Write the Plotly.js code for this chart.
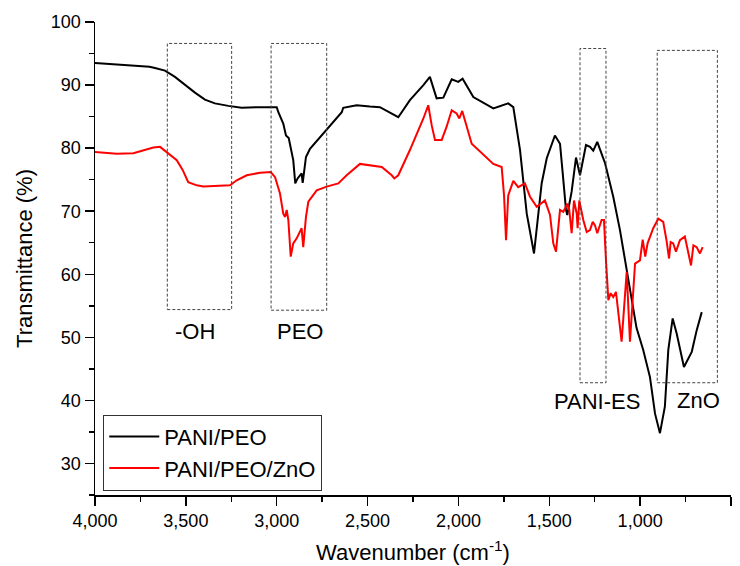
<!DOCTYPE html>
<html>
<head>
<meta charset="utf-8">
<script src="https://cdn.plot.ly/plotly-3.0.1.min.js"></script>
<style>
html,body{margin:0;padding:0;background:#fff;}
#chart{width:740px;height:566px;}
</style>
</head>
<body>
<div id="chart"></div>
<script>
// PANI/PEO
var wnPaniPeo = [4000,3826,3700,3670,3615,3560,3505,3450,3395,3340,3266,3193,3092,3000,2991,2964,2949,2934,2909,2898,2885,2863,2857,2839,2817,2642,2634,2560,2487,2432,2331,2267,2193,2157,2120,2083,2037,2001,1977,1918,1808,1726,1698,1661,1624,1584,1542,1514,1469,1441,1426,1408,1401,1377,1353,1331,1298,1276,1258,1236,1193,1148,1111,1075,1050,1020,983,946,918,891,864,845,821,799,759,716,689,661];
var tPaniPeo = [93.5,93.1,92.9,92.7,92.3,91.3,90.0,88.8,87.7,87.1,86.7,86.4,86.5,86.5,85.7,83.9,82.0,81.6,78.1,74.4,75.2,76.0,74.5,78.6,79.9,85.7,86.4,86.8,86.6,86.5,84.9,87.6,90.0,91.3,87.9,88.0,90.9,90.5,91.0,88.1,86.3,87.1,86.5,79.7,69.6,63.3,74.4,78.4,82.0,80.7,76.0,70.2,69.4,73.1,78.5,75.7,80.5,80.2,79.6,81.0,77.6,72.3,67.0,61.0,56.5,51.5,48.0,43.7,37.9,34.8,39.0,48.0,53.0,50.6,45.3,47.7,51.1,54.0];

// PANI/PEO/ZnO
var wnPaniPeoZnO = [4000,3881,3789,3734,3679,3642,3605,3550,3517,3487,3440,3404,3257,3220,3165,3092,3033,3009,2982,2964,2954,2945,2936,2923,2909,2890,2863,2854,2839,2826,2780,2725,2661,2615,2542,2422,2367,2353,2331,2267,2193,2166,2147,2129,2092,2065,2037,2010,1995,1979,1927,1863,1808,1762,1749,1738,1726,1698,1671,1634,1606,1569,1524,1496,1478,1463,1441,1423,1401,1390,1377,1364,1349,1344,1335,1313,1294,1276,1261,1249,1236,1212,1199,1188,1175,1162,1148,1133,1102,1074,1056,1028,1001,986,972,959,928,900,873,855,841,832,818,803,781,754,736,720,707,689,671,656];
var tPaniPeoZnO = [79.4,79.1,79.2,79.7,80.1,80.2,79.4,78.1,76.5,74.6,74.1,73.9,74.1,74.9,75.7,76.1,76.2,75.4,72.8,69.6,69.1,70.2,68.6,62.8,64.9,65.7,67.3,64.3,69.1,71.5,73.3,73.9,74.4,75.7,77.5,77.0,75.7,75.2,75.7,79.7,84.7,86.8,83.6,81.3,81.3,83.4,86.0,85.5,84.7,85.9,80.7,78.9,77.5,77.0,72.5,65.4,72.5,74.8,73.8,74.4,72.3,70.7,71.7,69.4,64.9,63.6,70.2,69.9,71.2,70.2,66.5,71.7,69.6,67.3,71.7,68.6,66.7,67.0,68.3,67.8,66.5,68.6,68.6,62.2,55.9,57.0,56.4,57.2,49.3,60.4,49.3,61.7,62.2,65.5,62.8,64.9,67.3,68.8,68.3,65.4,62.5,65.1,64.9,63.6,65.4,66.0,63.8,61.4,64.6,64.3,63.3,64.3];

var seriesNames = ["PANI/PEO", "PANI/PEO/ZnO"];
var bandLabels = ["-OH", "PEO", "PANI-ES", "ZnO"];

var FONT = "'Liberation Sans', Arial, sans-serif";

var traces = [
  {x: wnPaniPeo, y: tPaniPeo, name: seriesNames[0], type: "scatter", mode: "lines",
   line: {color: "#000000", width: 2}},
  {x: wnPaniPeoZnO, y: tPaniPeoZnO, name: seriesNames[1], type: "scatter", mode: "lines",
   line: {color: "#ff0000", width: 2}}
];

function box(x0, x1, y0, y1) {
  return {type: "rect", xref: "x", yref: "y", x0: x0, x1: x1, y0: y0, y1: y1,
          line: {color: "#444", width: 1, dash: "3px,2px"}, fillcolor: "rgba(0,0,0,0)"};
}
function lab(t, x, y) {
  return {text: t, x: x, y: y, xref: "x", yref: "y", showarrow: false,
          font: {family: FONT, size: 22, color: "#000"}};
}

var layout = {
  width: 740, height: 566,
  margin: {l: 95, r: 9, t: 22, b: 71},
  paper_bgcolor: "#fff", plot_bgcolor: "#fff",
  font: {family: FONT, color: "#000"},
  xaxis: {
    range: [4000, 500], dtick: 500, tick0: 0,
    tickformat: ",d", showgrid: false, zeroline: false,
    showline: true, linecolor: "#000", linewidth: 1.5,
    ticks: "outside", ticklen: 9, tickwidth: 1.5, tickcolor: "#000",
    minor: {dtick: 250, ticks: "outside", ticklen: 5, tickwidth: 1.5, tickcolor: "#000"},
    tickfont: {family: FONT, size: 18, color: "#000"},
    title: {text: "Wavenumber (cm<sup>-1</sup>)", font: {family: FONT, size: 22, color: "#000"}, standoff: 14}
  },
  yaxis: {
    range: [25, 100], dtick: 10, tick0: 0,
    showgrid: false, zeroline: false,
    showline: true, linecolor: "#000", linewidth: 1.5,
    ticks: "outside", ticklen: 9, tickwidth: 1.5, tickcolor: "#000",
    minor: {dtick: 5, ticks: "outside", ticklen: 5, tickwidth: 1.5, tickcolor: "#000"},
    tickfont: {family: FONT, size: 18, color: "#000"},
    title: {text: "Transmittance (%)", font: {family: FONT, size: 22, color: "#000"}, standoff: 12}
  },
  legend: {
    x: 0.013, y: 0.17, xanchor: "left", yanchor: "top",
    bgcolor: "#fff", bordercolor: "#333", borderwidth: 1,
    font: {family: FONT, size: 22, color: "#000"},
    itemwidth: 50
  },
  showlegend: true,
  shapes: [
    box(3602, 3248, 54.4, 96.6),
    box(3031, 2725, 54.3, 96.6),
    box(1331, 1188, 42.8, 95.8),
    box(906, 575, 42.8, 95.5)
  ],
  annotations: [
    lab(bandLabels[0], 3450, 50.9),
    lab(bandLabels[1], 2872, 51.0),
    lab(bandLabels[2], 1239, 39.8),
    lab(bandLabels[3], 680, 40.0)
  ]
};

Plotly.newPlot("chart", traces, layout, {staticPlot: true, displayModeBar: false});
</script>
</body>
</html>
